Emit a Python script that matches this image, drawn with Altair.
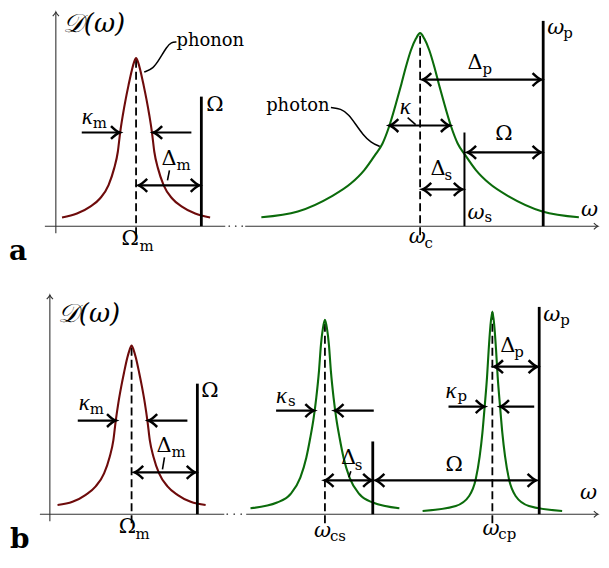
import altair as alt
import pandas as pd

PHONON_COLOR = "#6e0b0b"
PHOTON_COLOR = "#0b6b0b"
SERIF = "DejaVu Serif"
KAPPA_FONT = "Liberation Serif"
CHEVRON = "M -1 -0.75 Q -0.35 -0.12 0 0 Q -0.35 0.12 -1 0.75"

# ================= panel a : single optical mode =================
A_PHONON_W = [6.2, 21.2, 34.5, 44.5, 52.9, 58.5, 62.2, 64.5, 67.2, 70.2, 72.9, 76.2, 78.5, 80.5,
              82.5, 84.8, 88.1, 90.8, 93.8, 96.5, 98.8, 102.5, 108.1, 116.5, 126.5, 139.8, 154.8]
A_PHONON_D = [8.7, 12.7, 19.7, 28.0, 41.3, 58.0, 74.7, 93.7, 111.3, 128.0, 141.3, 156.3, 164.7, 168.7,
              164.7, 156.3, 141.3, 128.0, 111.3, 93.7, 74.7, 58.0, 41.3, 28.0, 19.7, 12.7, 8.7]
A_PHOTON_W = [206.2, 242.8, 276.2, 296.2, 309.5, 320.2, 327.8, 334.5, 342.2, 346.8, 351.2, 356.2, 361.2, 365.5,
              369.8, 374.8, 379.8, 384.2, 388.8, 396.5, 403.2, 410.8, 421.5, 434.8, 454.8, 488.2, 524.8]
A_PHOTON_D = [9.0, 14.7, 29.7, 43.0, 56.3, 71.3, 83.0, 100.3, 126.3, 143.0, 159.7, 176.3, 188.0, 193.7,
              188.0, 176.3, 159.7, 143.0, 126.3, 100.3, 83.0, 71.3, 56.3, 43.0, 29.7, 14.7, 9.0]
# vertical tone lines: Omega, omega_p (thick), omega_s (thin)
A_THICK_W = [146, 489]
A_THICK_TOP = [130, 206]
A_THIN_W = [410]
A_THIN_TOP = [94]
# resonance centres (dashed)
A_DASH_W = [80.5, 365.5]
A_DASH_TOP = [168.7, 193.7]
# single-headed arrows (kappa_m)
A_SGL_FROM = [26, 136]
A_SGL_TO = [64, 98]
A_SGL_D = [94, 94]
# double-headed arrows: Delta_m, Delta_p, kappa, Omega, Delta_s
A_DBL_W1 = [83, 368, 335, 413, 368]
A_DBL_W2 = [144, 487, 395, 487, 408]
A_DBL_D = [41, 147, 101, 74, 37]
# labels
A_KAPPA_TXT = ["κ", "κ"]
A_KAPPA_W = [26, 345]
A_KAPPA_D = [108, 118]
A_ITAL_TXT = ["ω", "ω", "ω", "ω"]
A_ITAL_W = [493, 413, 354, 527]
A_ITAL_D = [196, 10, -14, 13]
A_UP_TXT = ["Ω", "Δ", "Ω", "Δ", "Ω", "Δ"]
A_UP_W = [151, 106, 66, 413, 441, 376]
A_UP_D = [118, 63, -17, 160, 88, 53]
A_SUB_TXT = ["m", "m", "m", "p", "p", "s", "s", "c"]
A_SUB_W = [37, 121, 84, 509, 428, 390, 430, 370]
A_SUB_D = [101, 58, -23, 191, 155, 48, 6, -20]
A_WORD_TXT = ["phonon", "photon"]
A_WORD_W = [121, 211]
A_WORD_D = [183, 118]
# leader lines
A_PHONON_LEAD_W = [88.7, 97.7, 104.3, 111, 116, 121]
A_PHONON_LEAD_D = [154.7, 158, 168, 179.7, 184.7, 184.7]
A_PHOTON_LEAD_W = [276, 286, 294, 301, 308, 316, 325]
A_PHOTON_LEAD_D = [119, 118, 112, 102, 92, 84, 80]
A_TICK_W1 = [114, 353]
A_TICK_D1 = [56, 109]
A_TICK_W2 = [112, 361]
A_TICK_D2 = [46, 102]
# axes
A_XAXIS_W1 = [-11, 190]
A_XAXIS_W2 = [170, 544]
A_DOTS_W = [174, 180.5, 187]
A_YTOP = 215

# ================= panel b : two optical modes =================
B_PHONON_W = [7.7, 22.7, 36, 46, 54.4, 60, 63.7, 66, 68.7, 71.7, 74.4, 77.7, 80, 82,
              84, 86.3, 89.6, 92.3, 95.3, 98, 100.3, 104, 109.6, 118, 128, 141.3, 156.3]
B_PHONON_D = [9.3, 12.5, 19.5, 28, 41, 57.5, 74, 93, 111.5, 128.5, 142, 157, 165, 169.3,
              165, 157, 142, 128.5, 111.5, 93, 74, 57.5, 41, 28, 19.5, 12.5, 9.3]
B_PHOTON_S_W = [201.3, 228, 241.3, 251.3, 257.3, 261.3, 264.7, 267.3, 270, 272, 274, 276,
                278, 280, 282, 284.7, 287.3, 290.7, 294.7, 300.7, 310.7, 324, 350.7]
B_PHOTON_S_D = [6, 11.7, 20, 36.7, 56.7, 76.7, 96.7, 116.7, 143.3, 170, 186.7, 195,
                186.7, 170, 143.3, 116.7, 96.7, 76.7, 56.7, 36.7, 20, 11.7, 6]
B_PHOTON_P_W = [374, 407.3, 420.7, 427.3, 431.3, 434, 436.3, 438.7, 440.3, 442, 444,
                446, 447.7, 449.3, 451.7, 454, 456.7, 460.7, 467.3, 480.7, 514]
B_PHOTON_P_D = [3.3, 8.3, 18.3, 35, 58.3, 81.7, 108.3, 138.3, 165, 188.3, 203.3,
                188.3, 165, 138.3, 108.3, 81.7, 58.3, 35, 18.3, 8.3, 3.3]
B_THICK_W = [148, 324, 491]
B_THICK_TOP = [131, 73, 208]
B_DASH_W = [82, 276, 444]
B_DASH_TOP = [169.3, 195, 203.3]
B_SGL_FROM = [28, 138, 227, 325, 400, 486]
B_SGL_TO = [66, 99, 265, 286, 436, 452]
B_SGL_D = [94, 94, 104, 104, 108, 108]
B_DBL_W1 = [85, 276, 327, 446]
B_DBL_W2 = [146, 323, 488, 489]
B_DBL_D = [42, 34, 34, 148]
B_KAPPA_TXT = ["κ", "κ", "κ"]
B_KAPPA_W = [29, 227, 397]
B_KAPPA_D = [110, 117, 122]
B_ITAL_TXT = ["ω", "ω", "ω", "ω"]
B_ITAL_W = [495, 265, 434, 532]
B_ITAL_D = [197, -20, -18, 18]
B_UP_TXT = ["Ω", "Δ", "Ω", "Δ", "Ω", "Δ"]
B_UP_W = [152, 107, 69, 292, 397, 452]
B_UP_D = [120, 64, -17, 52, 45, 165]
B_SUB_TXT = ["m", "m", "m", "s", "s", "p", "p", "p", "cs", "cp"]
B_SUB_W = [40, 122, 86, 239, 306, 409, 512, 466, 281, 450]
B_SUB_D = [103, 59, -23, 111, 46, 116, 192, 160, -25, -23]
B_TICK_W1 = [115, 302]
B_TICK_D1 = [57, 43]
B_TICK_W2 = [113, 300]
B_TICK_D2 = [45, 37]
B_XAXIS_W1 = [-10, 197]
B_XAXIS_W2 = [175, 550]
B_DOTS_W = [178, 185, 192]
B_YTOP = 220


def build_panel(xdom, ydom, width, height, curves, thick, thin, dash, sgl, dbl,
                kappa, ital, up, sub, words, leads, ticks, xaxis, dots, ytop, dlabel, letter):
    X = lambda f: alt.X(f, type="quantitative", scale=alt.Scale(domain=xdom, nice=False, zero=False), axis=None)
    Y = lambda f: alt.Y(f, type="quantitative", scale=alt.Scale(domain=ydom, nice=False, zero=False), axis=None)
    layers = []
    # axes
    ax = pd.DataFrame({"w1": xaxis[0], "w2": xaxis[1], "D": 0})
    layers.append(alt.Chart(ax).mark_rule(color="#333333", strokeWidth=1.1).encode(
        x=X("w1"), x2="w2", y=Y("D")))
    layers.append(alt.Chart(pd.DataFrame({"w": [0], "D0": [-7], "D1": [ytop]})).mark_rule(
        color="#333333", strokeWidth=1.1).encode(x=X("w"), y=Y("D0"), y2="D1"))
    layers.append(alt.Chart(pd.DataFrame({"w": dots, "D": 0})).mark_circle(
        color="#555555", size=3, opacity=1).encode(x=X("w"), y=Y("D")))
    heads_ax = pd.DataFrame({"w": [0, xaxis[1][-1]], "D": [ytop, 0], "ang": [270, 0]})
    layers.append(alt.Chart(heads_ax).mark_point(shape=CHEVRON, filled=False, size=70, color="#333333",
                                                 strokeWidth=1.1, opacity=1).encode(
        x=X("w"), y=Y("D"), angle=alt.Angle("ang:Q", scale=None)))
    # dashed centre lines
    dd = pd.DataFrame({"w": dash[0], "D0": -9, "D1": dash[1]})
    layers.append(alt.Chart(dd).mark_rule(color="black", strokeWidth=1.8, strokeDash=[8, 4]).encode(
        x=X("w"), y=Y("D0"), y2="D1"))
    # curves
    for w, d, col in curves:
        layers.append(alt.Chart(pd.DataFrame({"w": w, "D": d})).mark_line(
            color=col, strokeWidth=2.1, interpolate="monotone").encode(x=X("w"), y=Y("D")))
    # tone lines
    layers.append(alt.Chart(pd.DataFrame({"w": thick[0], "D0": 0, "D1": thick[1]})).mark_rule(
        color="black", strokeWidth=2.8).encode(x=X("w"), y=Y("D0"), y2="D1"))
    if thin:
        layers.append(alt.Chart(pd.DataFrame({"w": thin[0], "D0": 0, "D1": thin[1]})).mark_rule(
            color="black", strokeWidth=2.0).encode(x=X("w"), y=Y("D0"), y2="D1"))
    # arrows
    seg = pd.DataFrame({"w1": list(sgl[0]) + list(dbl[0]), "w2": list(sgl[1]) + list(dbl[1]),
                        "D": list(sgl[2]) + list(dbl[2])})
    layers.append(alt.Chart(seg).mark_rule(color="black", strokeWidth=2.2).encode(
        x=X("w1"), x2="w2", y=Y("D")))
    hw, hd, ha = [], [], []
    for a, b, d in zip(*sgl):
        hw.append(b); hd.append(d); ha.append(0 if b > a else 180)
    for a, b, d in zip(*dbl):
        hw += [a, b]; hd += [d, d]; ha += [180, 0]
    layers.append(alt.Chart(pd.DataFrame({"w": hw, "D": hd, "ang": ha})).mark_point(
        shape=CHEVRON, filled=False, size=300, color="black", strokeWidth=2.5, opacity=1,
        strokeJoin="miter").encode(x=X("w"), y=Y("D"), angle=alt.Angle("ang:Q", scale=None)))
    # leader lines
    for w, d in leads:
        layers.append(alt.Chart(pd.DataFrame({"w": w, "D": d, "o": range(len(w))})).mark_line(
            color="black", strokeWidth=1.5, interpolate="basis").encode(x=X("w"), y=Y("D"), order="o:Q"))
    tk = pd.DataFrame({"w1": ticks[0], "D1": ticks[1], "w2": ticks[2], "D2": ticks[3]})
    layers.append(alt.Chart(tk).mark_rule(color="black", strokeWidth=1.6).encode(
        x=X("w1"), y=Y("D1"), x2="w2", y2="D2"))
    # text
    def txt(t, w, d, font=SERIF, **kw):
        return alt.Chart(pd.DataFrame({"t": t, "w": w, "D": d})).mark_text(
            align="left", baseline="middle", color="black", font=font, **kw).encode(
            x=X("w"), y=Y("D"), text="t:N")
    layers.append(txt(*kappa, font=KAPPA_FONT, fontSize=23, fontStyle="italic", dy=-2))
    layers.append(txt(*ital, fontSize=21, fontStyle="italic", dy=-3))
    layers.append(txt(*up, fontSize=21, dy=-4))
    layers.append(txt(*sub, fontSize=15, dy=-3))
    if words:
        layers.append(txt(*words, fontSize=18, dy=-3))
    layers.append(txt(["𝒟(ω)"], [dlabel[0]], [dlabel[1]], fontSize=26, fontStyle="italic"))
    layers.append(txt([letter[0]], [letter[1]], [letter[2]], fontSize=28, fontWeight="bold", dy=-3))
    return alt.layer(*layers).properties(width=width, height=height)


panel_a = build_panel(
    [-48, 545], [-40, 216], 593, 256,
    [(A_PHONON_W, A_PHONON_D, PHONON_COLOR), (A_PHOTON_W, A_PHOTON_D, PHOTON_COLOR)],
    (A_THICK_W, A_THICK_TOP), (A_THIN_W, A_THIN_TOP), (A_DASH_W, A_DASH_TOP),
    (A_SGL_FROM, A_SGL_TO, A_SGL_D), (A_DBL_W1, A_DBL_W2, A_DBL_D),
    (A_KAPPA_TXT, A_KAPPA_W, A_KAPPA_D),
    (A_ITAL_TXT, A_ITAL_W, A_ITAL_D), (A_UP_TXT, A_UP_W, A_UP_D), (A_SUB_TXT, A_SUB_W, A_SUB_D),
    (A_WORD_TXT, A_WORD_W, A_WORD_D),
    [(A_PHONON_LEAD_W, A_PHONON_LEAD_D), (A_PHOTON_LEAD_W, A_PHOTON_LEAD_D)],
    (A_TICK_W1, A_TICK_D1, A_TICK_W2, A_TICK_D2),
    (A_XAXIS_W1, A_XAXIS_W2), A_DOTS_W, A_YTOP, (7, 203), ("a", -47, -29))

panel_b = build_panel(
    [-42, 551], [-39, 225], 593, 264,
    [(B_PHONON_W, B_PHONON_D, PHONON_COLOR), (B_PHOTON_S_W, B_PHOTON_S_D, PHOTON_COLOR),
     (B_PHOTON_P_W, B_PHOTON_P_D, PHOTON_COLOR)],
    (B_THICK_W, B_THICK_TOP), None, (B_DASH_W, B_DASH_TOP),
    (B_SGL_FROM, B_SGL_TO, B_SGL_D), (B_DBL_W1, B_DBL_W2, B_DBL_D),
    (B_KAPPA_TXT, B_KAPPA_W, B_KAPPA_D),
    (B_ITAL_TXT, B_ITAL_W, B_ITAL_D), (B_UP_TXT, B_UP_W, B_UP_D), (B_SUB_TXT, B_SUB_W, B_SUB_D),
    None, [], (B_TICK_W1, B_TICK_D1, B_TICK_W2, B_TICK_D2),
    (B_XAXIS_W1, B_XAXIS_W2), B_DOTS_W, B_YTOP, (8, 201), ("b", -40, -29))

chart = alt.vconcat(panel_a, panel_b, spacing=24).properties(
    padding=0, background="white").configure_view(stroke=None)

chart.save("out.html", embed_options={"renderer": "svg", "actions": False})
